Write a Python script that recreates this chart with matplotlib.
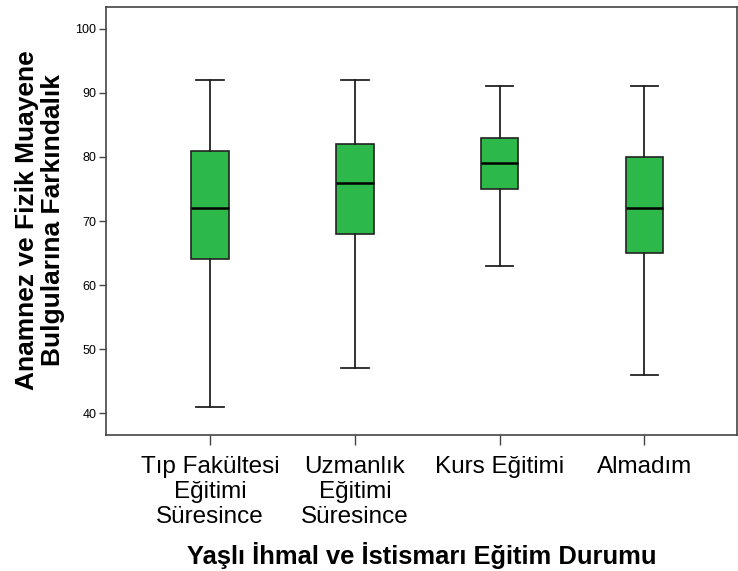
import matplotlib
matplotlib.use("Agg")
import matplotlib.pyplot as plt

categories = ["Tıp Fakültesi\nEğitimi\nSüresince", "Uzmanlık\nEğitimi\nSüresince", "Kurs Eğitimi", "Almadım"]
whislo = [41, 47, 63, 46]
q1 = [64, 68, 75, 65]
med = [72, 76, 79, 72]
q3 = [81, 82, 83, 80]
whishi = [92, 92, 91, 91]
yticks = [40, 50, 60, 70, 80, 90, 100]

plt.rcParams['font.family'] = ['Liberation Sans', 'DejaVu Sans']

fig = plt.figure(figsize=(7.38, 5.71), dpi=100)
ax = fig.add_axes([106/738, 1-435/571, (737-106)/738, (435-7)/571])

stats = []
for i, c in enumerate(categories):
    stats.append(dict(label=c, whislo=whislo[i], q1=q1[i], med=med[i], q3=q3[i], whishi=whishi[i], fliers=[]))

ax.bxp(stats, positions=range(len(categories)), widths=0.26, patch_artist=True, showfliers=False,
       boxprops=dict(facecolor="#2db84a", edgecolor="#222222", linewidth=1.2),
       medianprops=dict(color="black", linewidth=1.8),
       whiskerprops=dict(color="#222222", linewidth=1.3),
       capprops=dict(color="#222222", linewidth=1.3),
       capwidths=0.19)

ax.set_xlim(-0.72, 3.64)
ax.set_ylim(36.6, 103.4)
ax.set_yticks(yticks)
ax.set_yticklabels([str(v) for v in yticks], fontsize=9)
ax.set_xticks(range(len(categories)))
ax.set_xticklabels(categories, fontsize=17.5, linespacing=1.18)
for s in ax.spines.values():
    s.set_color("#444444")
    s.set_linewidth(1.2)
ax.tick_params(axis='y', direction='out', length=5, width=1, color="#444444", pad=2)
ax.tick_params(axis='x', direction='out', length=7, width=1, color="#444444", pad=8)

ax.set_xlabel("Yaşlı İhmal ve İstismarı Eğitim Durumu", fontsize=18.4, fontweight='bold', labelpad=10)
fig.text(40/738, 1-220/571, "Anamnez ve Fizik Muayene\nBulgularına Farkındalık", rotation=90,
         fontsize=19, fontweight='bold', ha='center', va='center', linespacing=1.1)

fig.savefig("out.png", dpi=100)
